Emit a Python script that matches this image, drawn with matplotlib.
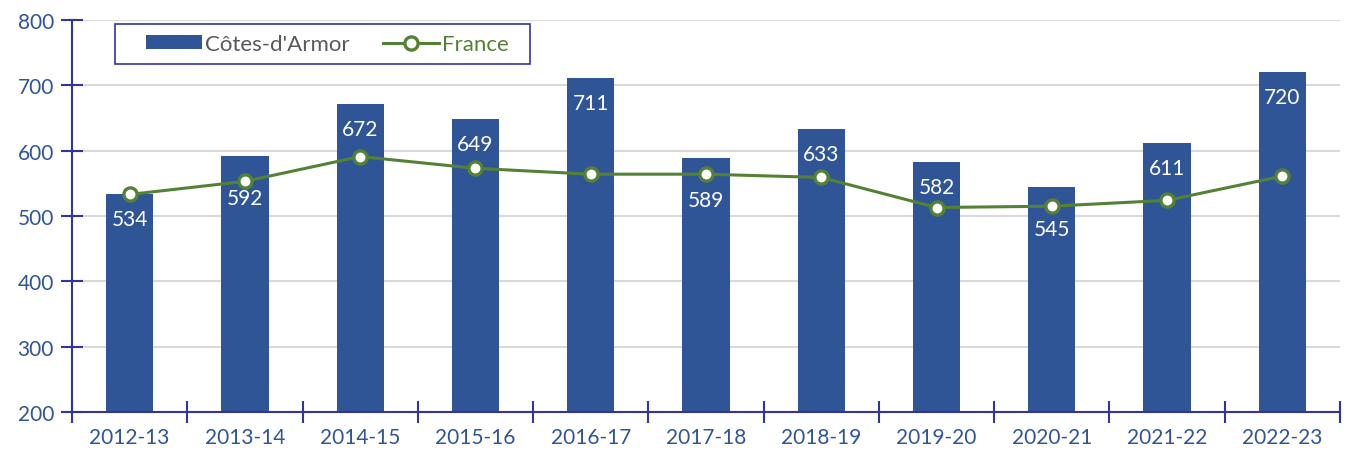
import matplotlib as mpl
mpl.use('Agg')
import matplotlib.pyplot as plt
from matplotlib.patches import Rectangle
import numpy as np

annees = ["2012-13", "2013-14", "2014-15", "2015-16", "2016-17", "2017-18",
          "2018-19", "2019-20", "2020-21", "2021-22", "2022-23"]
cotes_armor = [534, 592, 672, 649, 711, 589, 633, 582, 545, 611, 720]
france = [533, 553, 591, 573, 564, 564, 559, 513, 515, 524, 561]

bleu = "#2F5597"
vert = "#548235"
axe = "#3333A0"

plt.rcParams['font.family'] = ['Lato', 'DejaVu Sans']
fs = 15

fig = plt.figure(figsize=(13.47, 4.52), dpi=100)
ax = fig.add_axes([72/1347, 1-413/452, 1268/1347, 392/452])

x = np.arange(len(annees))
barres = ax.bar(x, cotes_armor, width=0.41, color=bleu, label="Côtes-d'Armor", zorder=2)
ligne, = ax.plot(x, france, color=vert, lw=2.2, marker='o', ms=9.5, mfc='white',
                 mec=vert, mew=2.4, label="France", zorder=3)

# etiquettes dans les barres (descendues quand la courbe gene)
plus_bas = {1, 5, 8}
for i, v in enumerate(cotes_armor):
    dy = 42 if i in plus_bas else 25
    ax.annotate(str(v), (x[i], v), xytext=(0, -dy), textcoords='offset pixels',
                ha='center', va='center', color='white', fontsize=fs, zorder=4)

ax.set_ylim(200, 800)
ax.set_xlim(-0.5, len(annees) - 0.5)
ax.set_yticks(range(200, 801, 100))
ax.yaxis.grid(True, color='#D9D9D9', lw=1.5, zorder=0)
ax.set_axisbelow(True)

ax.set_xticks(x)
ax.set_xticklabels(annees)
ax.set_xticks(np.arange(-0.5, len(annees), 1), minor=True)
ax.tick_params(axis='x', which='major', length=0, pad=11, labelsize=fs, labelcolor=bleu)
ax.tick_params(axis='x', which='minor', length=16, direction='inout', color=axe, width=1.5)
ax.tick_params(axis='y', length=16, direction='inout', color=axe, width=1.5,
               labelsize=fs, labelcolor=bleu, pad=5)

for s in ['top', 'right']:
    ax.spines[s].set_visible(False)
for s in ['left', 'bottom']:
    ax.spines[s].set_color(axe)
    ax.spines[s].set_linewidth(1.5)

# cadre de la legende
cadre = Rectangle((43/1268, 348/392), 415/1268, 40/392, transform=ax.transAxes,
                  facecolor='white', edgecolor=axe, lw=1.2, zorder=5, clip_on=False)
ax.add_patch(cadre)
leg = ax.legend([barres, ligne], ["Côtes-d'Armor", "France"], loc='center',
                bbox_to_anchor=(255.5/1268, 368/392), ncol=2, fontsize=16,
                frameon=False, handlelength=2.5, handleheight=0.55,
                columnspacing=1.5, borderpad=0, handletextpad=0.15)
leg.set_zorder(6)
leg.get_texts()[0].set_color('#595959')
leg.get_texts()[1].set_color(vert)

fig.savefig('out.png', dpi=100)
